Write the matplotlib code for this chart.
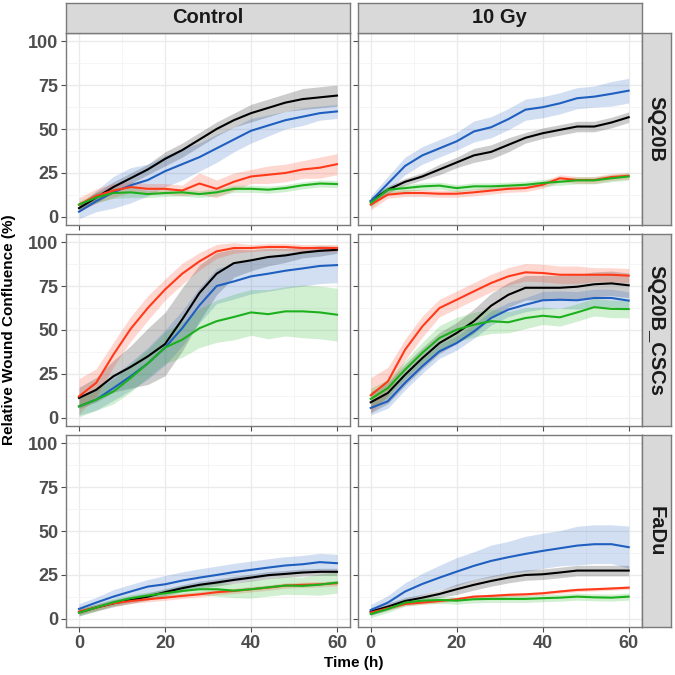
import matplotlib
matplotlib.use("Agg")
import matplotlib.pyplot as plt
import numpy as np

plt.rcParams['font.family'] = ['Liberation Sans', 'DejaVu Sans']

# ---------------- data ----------------
time_h = [0, 4, 8, 12, 16, 20, 24, 28, 32, 36, 40, 44, 48, 52, 56, 60]
treatments = ["Control", "10 Gy"]
cell_lines = ["SQ20B", "SQ20B_CSCs", "FaDu"]
series_names = ["black", "blue", "red", "green"]

# SQ20B - Control
sq20b_ctrl_black = [5, 11, 17, 22, 27, 33, 38, 44, 50, 55, 59, 62, 65, 67, 68, 69]
sq20b_ctrl_black_sd = [2, 3, 3, 3, 3, 4, 4, 4, 4, 4, 5, 5, 5, 6, 6, 6]
sq20b_ctrl_blue = [3, 9, 14, 18, 21, 26, 30, 34, 39, 44, 49, 52, 55, 57, 59, 60]
sq20b_ctrl_blue_sd = [4, 6, 9, 10, 9, 9, 9, 8, 8, 7, 7, 6, 5, 5, 4, 4]
sq20b_ctrl_red = [7, 12, 15, 17, 16, 16, 15, 19, 16, 20, 23, 24, 25, 27, 28, 30]
sq20b_ctrl_red_sd = [4, 4, 4, 3, 3, 3, 3, 6, 5, 5, 4, 5, 5, 5, 6, 6]
sq20b_ctrl_green = [7, 11, 13.6, 14, 13, 13.6, 14, 13, 14, 16, 16, 15.5, 16.4, 18, 19, 18.7]
sq20b_ctrl_green_sd = [2, 3, 3, 3, 2, 2, 2, 2, 2, 2, 2, 2, 2, 2, 2, 2]

# SQ20B - 10 Gy
sq20b_10gy_black = [9, 15.5, 20, 23, 27, 31, 35, 37, 41, 45, 47.6, 49.5, 51.4, 51.4, 53.7, 56.7]
sq20b_10gy_black_sd = [2, 2, 2, 2, 3, 3, 4, 4, 4, 3, 3, 3, 3, 3, 3, 3]
sq20b_10gy_blue = [9, 19, 29, 35, 39, 43, 48.6, 51, 55.6, 61, 62.4, 64.6, 67.5, 68.4, 70, 71.8]
sq20b_10gy_blue_sd = [3, 4, 5, 5, 5, 5, 6, 6, 6, 6, 6, 6, 6, 6, 7, 7]
sq20b_10gy_red = [7, 12.7, 13.6, 13.6, 13.2, 13.2, 14, 15, 16, 16.4, 18.3, 22, 21, 21, 22.7, 23.4]
sq20b_10gy_red_sd = [3, 2, 2, 2, 2, 2, 2, 2, 2, 2, 2, 2, 2, 2, 2, 2]
sq20b_10gy_green = [8, 15.5, 16.4, 17.4, 17.8, 16.4, 17.4, 17.4, 17.8, 18.3, 19.3, 20, 20.8, 20.8, 22, 23]
sq20b_10gy_green_sd = [3, 2, 2, 2, 2, 2, 2, 2, 2, 2, 2, 2, 2, 2, 2, 2]

# SQ20B_CSCs - Control
cscs_ctrl_black = [11.4, 16, 23.7, 29, 35, 42, 56, 71, 82, 88, 89.6, 91.5, 92.4, 94, 95, 95.6]
cscs_ctrl_black_sd = [6, 7, 9, 12, 16, 18, 18, 16, 12, 8, 6, 5, 4, 3, 3, 2]
cscs_ctrl_blue = [6.6, 10.4, 17, 23.7, 31, 40, 51, 64, 75, 77.6, 80.5, 82, 83.7, 85, 86.4, 86.9]
cscs_ctrl_blue_sd = [5, 6, 7, 8, 9, 10, 10, 10, 10, 10, 10, 10, 10, 10, 10, 10]
cscs_ctrl_red = [12.3, 20, 36, 50.6, 62.5, 73, 82, 89, 94.7, 96.6, 96.6, 97.2, 97.2, 96.6, 96.6, 96.6]
cscs_ctrl_red_sd = [10, 8, 7, 7, 7, 6, 6, 5, 4, 3, 2, 2, 2, 2, 2, 2]
cscs_ctrl_green = [6.6, 10.4, 15, 22.7, 31, 40, 44.5, 51, 55, 57.4, 60, 59, 60.6, 60.6, 60, 58.7]
cscs_ctrl_green_sd = [6, 6, 7, 8, 8, 9, 10, 11, 12, 13, 13, 14, 14, 15, 15, 15]

# SQ20B_CSCs - 10 Gy
cscs_10gy_black = [8.9, 14.2, 24.6, 34, 42.6, 48.3, 55, 63.8, 70, 74, 74, 74, 74.6, 76, 76.5, 75.4]
cscs_10gy_black_sd = [6, 6, 6, 6, 6, 6, 7, 7, 7, 7, 7, 7, 7, 7, 7, 7]
cscs_10gy_blue = [5.7, 9.5, 20, 29.4, 37.9, 42.6, 49.2, 56.8, 61.6, 64.4, 66.9, 67.2, 66.9, 68.2, 68.2, 66.7]
cscs_10gy_blue_sd = [4, 4, 4, 4, 4, 4, 4, 4, 4, 4, 5, 5, 5, 5, 5, 5]
cscs_10gy_red = [12.9, 20.8, 38.8, 52, 62.5, 67.2, 72, 76.7, 80.5, 82.8, 82.4, 81.4, 81.4, 81.4, 81.4, 80.9]
cscs_10gy_red_sd = [10, 8, 6, 6, 5, 5, 5, 5, 5, 5, 5, 5, 5, 4, 4, 4]
cscs_10gy_green = [10.8, 17, 27.5, 37, 45.5, 50.2, 53, 55, 54.4, 56.8, 58.1, 57.2, 60, 63, 62, 61.9]
cscs_10gy_green_sd = [6, 5, 5, 6, 7, 7, 7, 7, 6, 6, 5, 5, 5, 5, 5, 5]

# FaDu - Control
fadu_ctrl_black = [3.8, 6.5, 8.9, 10.8, 12.7, 15.2, 17.5, 19.4, 20.7, 22.2, 23.5, 24.9, 25.6, 26.4, 26.8, 26.8]
fadu_ctrl_black_sd = [2, 2, 2, 2, 2, 2, 2, 2, 2, 2, 2, 2, 2, 2, 2, 2]
fadu_ctrl_blue = [5.7, 9.3, 12.7, 15.6, 18.4, 19.7, 21.8, 23.5, 25, 26.6, 27.9, 29.2, 30.4, 31.1, 32.3, 31.7]
fadu_ctrl_blue_sd = [3, 3, 4, 4, 4, 5, 5, 5, 5, 5, 5, 5, 5, 5, 5, 5]
fadu_ctrl_red = [4.2, 6.5, 8.9, 10.2, 11.2, 12.1, 13.1, 14, 15.2, 15.9, 16.9, 17.8, 19, 19.4, 19.7, 20.3]
fadu_ctrl_red_sd = [1.5, 1.5, 1.5, 1.5, 1.5, 1.5, 1.5, 1.5, 1.5, 1.5, 1.5, 1.5, 1.5, 1.5, 1.5, 1.5]
fadu_ctrl_green = [3.6, 6.5, 9.5, 11.8, 13.3, 14.6, 15.9, 16.9, 16.9, 16.1, 16.9, 18, 19, 18.8, 19.5, 20.7]
fadu_ctrl_green_sd = [2, 2, 2, 2, 2, 2, 3, 3, 4, 4, 5, 5, 5, 5, 6, 6]

# FaDu - 10 Gy
fadu_10gy_black = [4.2, 7, 10.2, 12.1, 14.2, 16.9, 19.4, 21.6, 23.5, 25, 25.4, 26.4, 27.5, 27.5, 27.5, 27.5]
fadu_10gy_black_sd = [2, 2, 2, 2, 2, 3, 3, 3, 3, 3, 3, 3, 3, 3, 3, 3]
fadu_10gy_blue = [5.1, 9.3, 15.6, 19.9, 23.5, 26.9, 30.2, 33, 35.1, 37, 38.7, 40.2, 41.7, 42.5, 42.5, 40.8]
fadu_10gy_blue_sd = [3, 4, 5, 6, 7, 8, 8, 9, 9, 10, 10, 10, 11, 11, 11, 12]
fadu_10gy_red = [3.6, 6.1, 8.5, 9.3, 10.2, 11.2, 12.7, 13.1, 13.7, 14, 14.6, 15.6, 16.5, 16.9, 17.3, 17.8]
fadu_10gy_red_sd = [1, 1, 1, 1, 1, 1, 1, 1, 1, 1, 1, 1, 1, 1, 1, 1]
fadu_10gy_green = [2.8, 5.7, 9.3, 10.4, 10.8, 10.4, 11.2, 11.4, 11.4, 11.4, 11.8, 12.1, 12.7, 12.3, 12.1, 12.7]
fadu_10gy_green_sd = [2, 2, 2, 2, 2, 2, 2, 2, 2, 2, 2, 2, 2, 2, 2, 2]

x_ticks = [0, 20, 40, 60]
y_ticks = [0, 25, 50, 75, 100]

panels = {
    ("SQ20B", "Control"): [(sq20b_ctrl_black, sq20b_ctrl_black_sd), (sq20b_ctrl_blue, sq20b_ctrl_blue_sd),
                           (sq20b_ctrl_red, sq20b_ctrl_red_sd), (sq20b_ctrl_green, sq20b_ctrl_green_sd)],
    ("SQ20B", "10 Gy"): [(sq20b_10gy_black, sq20b_10gy_black_sd), (sq20b_10gy_blue, sq20b_10gy_blue_sd),
                         (sq20b_10gy_red, sq20b_10gy_red_sd), (sq20b_10gy_green, sq20b_10gy_green_sd)],
    ("SQ20B_CSCs", "Control"): [(cscs_ctrl_black, cscs_ctrl_black_sd), (cscs_ctrl_blue, cscs_ctrl_blue_sd),
                                (cscs_ctrl_red, cscs_ctrl_red_sd), (cscs_ctrl_green, cscs_ctrl_green_sd)],
    ("SQ20B_CSCs", "10 Gy"): [(cscs_10gy_black, cscs_10gy_black_sd), (cscs_10gy_blue, cscs_10gy_blue_sd),
                              (cscs_10gy_red, cscs_10gy_red_sd), (cscs_10gy_green, cscs_10gy_green_sd)],
    ("FaDu", "Control"): [(fadu_ctrl_black, fadu_ctrl_black_sd), (fadu_ctrl_blue, fadu_ctrl_blue_sd),
                          (fadu_ctrl_red, fadu_ctrl_red_sd), (fadu_ctrl_green, fadu_ctrl_green_sd)],
    ("FaDu", "10 Gy"): [(fadu_10gy_black, fadu_10gy_black_sd), (fadu_10gy_blue, fadu_10gy_blue_sd),
                        (fadu_10gy_red, fadu_10gy_red_sd), (fadu_10gy_green, fadu_10gy_green_sd)],
}

colors = {"black": "#000000", "blue": "#1F5FBF", "red": "#FF3A1A", "green": "#1DB01D"}

# ---------------- layout ----------------
W = H = 675
fig = plt.figure(figsize=(6.75, 6.75), dpi=100)
fig.patch.set_facecolor("white")

col_left_px = [66.1, 357.8]
panel_w_px = 283.8
row_top_px = [32.6, 233.6, 434.6]
panel_h_px = 192.8
strip_px = 29.4
border_col = "#7A7A7A"
tick_col = "#4D4D4D"

t = np.array(time_h)
for r, line in enumerate(cell_lines):
    for c, trt in enumerate(treatments):
        left = col_left_px[c] / W
        bottom = (H - row_top_px[r] - panel_h_px) / H
        ax = fig.add_axes([left, bottom, panel_w_px / W, panel_h_px / H])
        ax.set_facecolor("white")
        ax.set_xlim(-3, 63)
        ax.set_ylim(-4.8, 104.8)
        ax.set_xticks(x_ticks)
        ax.set_yticks(y_ticks)
        ax.set_xticks([10, 30, 50], minor=True)
        ax.set_yticks([12.5, 37.5, 62.5, 87.5], minor=True)
        ax.grid(which="major", color="#EBEBEB", lw=1.0, zorder=0)
        ax.grid(which="minor", color="#F4F4F4", lw=0.6, zorder=0)
        ax.set_axisbelow(True)
        data = panels[(line, trt)]
        for name, (m, sd) in zip(series_names, data):
            m = np.array(m, dtype=float)
            sd = np.array(sd, dtype=float)
            ax.fill_between(t, m - sd, m + sd, color=colors[name], alpha=0.2, lw=0, zorder=1)
        for name, (m, sd) in zip(series_names, data):
            ax.plot(t, m, color=colors[name], lw=1.5, zorder=3)
        for s in ax.spines.values():
            s.set_color(border_col)
            s.set_linewidth(1.0)
        ax.tick_params(which="major", length=3.5, width=0.8, color=tick_col, pad=2,
                       labelsize=13, labelcolor=tick_col)
        ax.tick_params(which="minor", length=0)
        for lab in ax.get_xticklabels() + ax.get_yticklabels():
            lab.set_fontweight("bold")
        if c == 1:
            ax.set_yticklabels([])
        if r < 2:
            ax.set_xticklabels([])

        # top strips
        if r == 0:
            sax = fig.add_axes([left, (H - row_top_px[0]) / H, panel_w_px / W, strip_px / H])
            sax.set_xticks([]); sax.set_yticks([])
            sax.set_facecolor("#D9D9D9")
            for s in sax.spines.values():
                s.set_color(border_col); s.set_linewidth(1.0)
            sax.text(0.5, 0.5, trt, ha="center", va="center", fontsize=14.5,
                     fontweight="bold", color="#1A1A1A", transform=sax.transAxes)
        # right strips
        if c == 1:
            sax = fig.add_axes([(col_left_px[1] + panel_w_px) / W, bottom, strip_px / W, panel_h_px / H])
            sax.set_xticks([]); sax.set_yticks([])
            sax.set_facecolor("#D9D9D9")
            for s in sax.spines.values():
                s.set_color(border_col); s.set_linewidth(1.0)
            sax.text(0.5, 0.5, line, ha="center", va="center", fontsize=14.5,
                     fontweight="bold", color="#1A1A1A", rotation=-90,
                     transform=sax.transAxes)

# axis titles
fig.text(9.5 / W, 1 - 330 / H, "Relative Wound Confluence (%)", rotation=90,
         ha="center", va="center", fontsize=11, fontweight="bold", color="black")
fig.text(354 / W, 1 - 663 / H, "Time (h)", ha="center", va="center",
         fontsize=11, fontweight="bold", color="black")

fig.savefig("out.png", dpi=100)
